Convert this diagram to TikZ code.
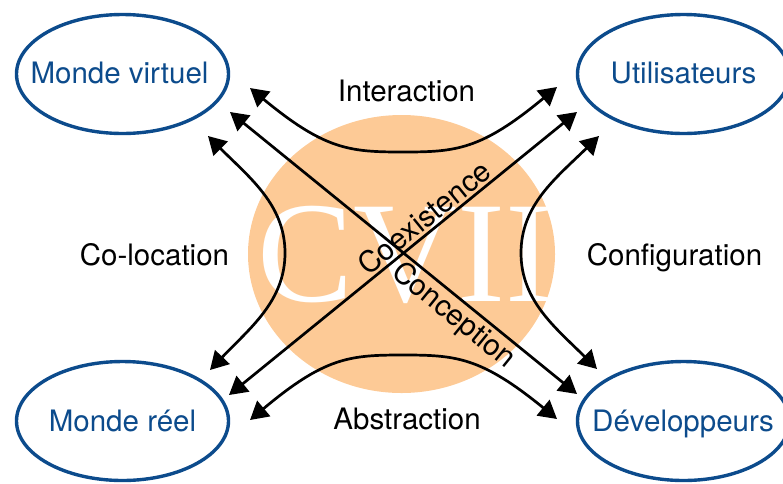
\documentclass[tikz,border=0pt]{standalone}
\usepackage{fontspec}
\setmainfont{TeX Gyre Heros}
\newfontfamily\cvfont{Liberation Serif}
\usetikzlibrary{arrows.meta,shapes.geometric}
\definecolor{peach}{RGB}{253,202,150}
\definecolor{dblue}{RGB}{12,75,140}
\begin{document}
\begin{tikzpicture}[x=1pt,y=-1pt,
  lbl/.style={font=\fontsize{29.5}{30}\selectfont, inner sep=0pt},
  ell/.style={draw=dblue, line width=3.4pt, ellipse, minimum width=212pt, minimum height=119pt, inner sep=0pt},
  dbl/.style={line width=2.7pt, {Triangle[length=18pt,width=20pt]}-{Triangle[length=18pt,width=20pt]}}]
\useasboundingbox (0,0) rectangle (783,483);
% background disc and title
\node[fill=peach, ellipse, minimum width=307pt, minimum height=278pt, inner sep=0pt] (bg) at (401.5,254) {};
\node[text=white, font=\cvfont\fontsize{144}{144}\selectfont, anchor=base, inner sep=0pt] (cv) at (405.5,301) {CVII};
% corner ellipses
\node[ell] (mv) at (122.5,74) {};
\node[ell] (ut) at (683.5,74) {};
\node[ell] (mr) at (122.5,421) {};
\node[ell] (dv) at (683.5,421) {};
\node[lbl, text=dblue, anchor=base] (mvt) at (119.5,83.5) {Monde virtuel};
\node[lbl, text=dblue, anchor=base] (utt) at (683.5,83.5) {Utilisateurs};
\node[lbl, text=dblue, anchor=base] (mrt) at (122.5,431.5) {Monde réel};
\node[lbl, text=dblue, anchor=base] (dvt) at (683,431.5) {Développeurs};
% relation labels
\node[lbl, anchor=base] (inter) at (406.5,101) {Interaction};
\node[lbl, anchor=base] (coloc) at (154.5,265) {Co-location};
\node[lbl, anchor=base] (config) at (674.5,265) {Configuration};
\node[lbl, anchor=base] (abstr) at (407,429) {Abstraction};
% arrow end points
\coordinate (i1) at (250,88);  \coordinate (i2) at (557,87);
\coordinate (a1) at (250,420); \coordinate (a2) at (557,419);
\coordinate (l1) at (208,136); \coordinate (l2) at (210,370);
\coordinate (g1) at (599,136); \coordinate (g2) at (597,369);
\coordinate (ce1) at (229,395); \coordinate (ce2) at (577,112);
\coordinate (cp1) at (230,112); \coordinate (cp2) at (577,394);
% curved relations
\draw[dbl] (i1) .. controls (325,150) and (350,152) .. (403,152) .. controls (456,152) and (481,150) .. (i2);
\draw[dbl] (a1) .. controls (325,357) and (350,355) .. (403,355) .. controls (456,355) and (481,357) .. (a2);
\draw[dbl] (l1) .. controls (250,178) and (285,205) .. (285,253) .. controls (285,301) and (250,328) .. (l2);
\draw[dbl] (g1) .. controls (556,178) and (521,205) .. (521,253) .. controls (521,301) and (556,328) .. (g2);
% diagonals
\draw[dbl] (ce1) -- node[lbl, sloped, pos=0.587, anchor=south, inner sep=2pt] (coex) {Coexistence} (ce2);
\draw[dbl] (cp1) -- node[lbl, sloped, pos=0.675, anchor=north, inner sep=2pt] (conc) {Conception} (cp2);
\end{tikzpicture}
\end{document}
